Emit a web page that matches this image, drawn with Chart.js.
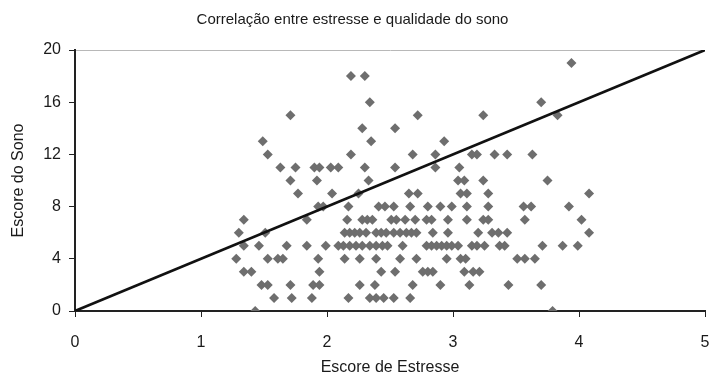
<!DOCTYPE html>
<html>
<head>
<meta charset="utf-8">
<script src="https://cdn.jsdelivr.net/npm/chart.js@4.4.1/dist/chart.umd.min.js"></script>
<style>
  html, body { margin: 0; padding: 0; background: #fff; }
  #wrap { width: 710px; height: 378px; }
</style>
</head>
<body>
<div id="wrap"><canvas id="c" width="710" height="378"></canvas></div>
<script>
// ---- Data ----
const chartTitle = "Correlação entre estresse e qualidade do sono";
const xAxisTitle = "Escore de Estresse";
const yAxisTitle = "Escore do Sono";
const xTicks = [0, 1, 2, 3, 4, 5];
const yTicks = [0, 4, 8, 12, 16, 20];

// Stress scores (x) and sleep scores (y) for each respondent
const stressScores = [
  3.94,
  2.19, 2.30,
  2.34, 3.70,
  1.71, 2.72, 3.24, 3.83,
  2.28, 2.54,
  1.49, 2.35, 2.93,
  1.53, 2.19, 2.68, 2.86, 3.15, 3.19, 3.33, 3.43, 3.63,
  1.63, 1.75, 1.90, 1.94, 2.03, 2.09, 2.30, 2.54, 2.86, 3.05,
  1.71, 1.92, 2.33, 3.04, 3.09, 3.24, 3.75,
  1.77, 2.04, 2.25, 2.65, 2.72, 3.06, 3.11, 3.28, 4.08,
  1.93, 1.97, 2.17, 2.41, 2.46, 2.53, 2.66, 2.80, 2.90, 2.99, 3.11, 3.28, 3.56, 3.62, 3.92,
  1.34, 1.84, 2.16, 2.28, 2.32, 2.36, 2.51, 2.55, 2.62, 2.70, 2.79, 2.83, 2.96, 3.11, 3.24, 3.28, 3.57, 4.02,
  1.30, 1.51, 2.14, 2.18, 2.22, 2.26, 2.31, 2.39, 2.43, 2.47, 2.53, 2.58, 2.63, 2.67, 2.71, 2.84, 2.96, 3.20, 3.31, 3.36, 3.43, 4.08,
  1.34, 1.46, 1.68, 1.84, 1.99, 2.09, 2.13, 2.18, 2.23, 2.28, 2.34, 2.39, 2.44, 2.48, 2.60, 2.79, 2.83, 2.87, 2.91, 2.95, 2.99, 3.04, 3.15, 3.19, 3.25, 3.37, 3.41, 3.71, 3.87, 3.99,
  1.28, 1.53, 1.61, 1.65, 1.93, 2.14, 2.26, 2.39, 2.58, 2.71, 2.95, 3.06, 3.10, 3.51, 3.57, 3.65,
  1.34, 1.40, 1.94, 2.43, 2.54, 2.76, 2.80, 2.84, 3.09, 3.16, 3.21,
  1.48, 1.53, 1.71, 1.89, 1.94, 2.26, 2.38, 2.68, 2.90, 3.13, 3.44, 3.70,
  1.58, 1.72, 1.88, 2.17, 2.34, 2.39, 2.45, 2.53, 2.66,
  1.43, 3.79
];
const sleepScores = [
  19,
  18, 18,
  16, 16,
  15, 15, 15, 15,
  14, 14,
  13, 13, 13,
  12, 12, 12, 12, 12, 12, 12, 12, 12,
  11, 11, 11, 11, 11, 11, 11, 11, 11, 11,
  10, 10, 10, 10, 10, 10, 10,
  9, 9, 9, 9, 9, 9, 9, 9, 9,
  8, 8, 8, 8, 8, 8, 8, 8, 8, 8, 8, 8, 8, 8, 8,
  7, 7, 7, 7, 7, 7, 7, 7, 7, 7, 7, 7, 7, 7, 7, 7, 7, 7,
  6, 6, 6, 6, 6, 6, 6, 6, 6, 6, 6, 6, 6, 6, 6, 6, 6, 6, 6, 6, 6, 6,
  5, 5, 5, 5, 5, 5, 5, 5, 5, 5, 5, 5, 5, 5, 5, 5, 5, 5, 5, 5, 5, 5, 5, 5, 5, 5, 5, 5, 5, 5,
  4, 4, 4, 4, 4, 4, 4, 4, 4, 4, 4, 4, 4, 4, 4, 4,
  3, 3, 3, 3, 3, 3, 3, 3, 3, 3, 3,
  2, 2, 2, 2, 2, 2, 2, 2, 2, 2, 2, 2,
  1, 1, 1, 1, 1, 1, 1, 1, 1,
  0, 0
];

// Reference line drawn in the figure (endpoints)
const lineX = [0, 5];
const lineY = [0, 20];

// ---- Build chart ----
const points = stressScores.map((x, i) => ({ x: x, y: sleepScores[i] }));
const linePts = lineX.map((x, i) => ({ x: x, y: lineY[i] }));

const FONT = "'Liberation Sans', Arial, sans-serif";

new Chart(document.getElementById('c'), {
  type: 'scatter',
  data: {
    datasets: [
      {
        type: 'line',
        data: linePts,
        borderColor: '#111',
        borderWidth: 2.6,
        pointRadius: 0,
        fill: false,
        order: 0
      },
      {
        data: points,
        pointStyle: 'rectRot',
        pointRadius: 5,
        pointBackgroundColor: '#6e6e6e',
        pointBorderColor: '#6e6e6e',
        pointBorderWidth: 0,
        order: 1
      }
    ]
  },
  options: {
    responsive: false,
    animation: false,
    devicePixelRatio: 1,
    layout: { padding: { left: 0, right: 5, top: 0, bottom: 0 } },
    plugins: {
      legend: { display: false },
      tooltip: { enabled: false },
      title: {
        display: true,
        text: chartTitle,
        color: '#1a1a1a',
        font: { family: FONT, size: 15, weight: 'normal' },
        padding: { top: 11, bottom: 21 }
      }
    },
    scales: {
      x: {
        type: 'linear',
        min: 0, max: 5,
        afterBuildTicks: (s) => { s.ticks = xTicks.map(v => ({ value: v })); },
        afterFit: (s) => { s.height = 67; s.paddingLeft = 0; s.paddingRight = 0; },
        border: { display: true, color: '#222', width: 2 },
        grid: { drawOnChartArea: false, drawTicks: true, tickLength: 6, color: '#222' },
        ticks: { color: '#1a1a1a', font: { family: FONT, size: 16 }, padding: 16, maxRotation: 0 },
        title: {
          display: true, text: xAxisTitle, color: '#1a1a1a',
          font: { family: FONT, size: 16 }, padding: { top: 0, bottom: 1 }
        }
      },
      y: {
        type: 'linear',
        min: 0, max: 20,
        afterBuildTicks: (s) => { s.ticks = yTicks.map(v => ({ value: v })); },
        afterFit: (s) => { s.width = 75; s.paddingTop = 0; s.paddingBottom = 0; },
        border: { display: true, color: '#222', width: 2 },
        grid: {
          drawOnChartArea: true, drawTicks: true, tickLength: 6,
          color: (ctx) => (ctx.tick && ctx.tick.value === 20) ? '#b8b8b8' : 'rgba(0,0,0,0)',
          tickColor: '#222'
        },
        ticks: { color: '#1a1a1a', font: { family: FONT, size: 16 }, padding: 8 },
        title: {
          display: true, text: yAxisTitle, color: '#1a1a1a',
          font: { family: FONT, size: 16 }, padding: { top: 9, bottom: 0 }
        }
      }
    }
  }
});
</script>
</body>
</html>
